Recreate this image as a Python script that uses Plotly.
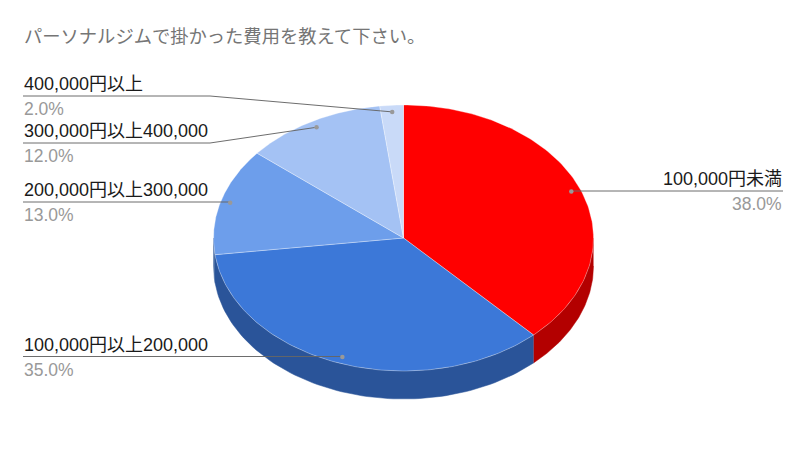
import numpy as np
import plotly.graph_objects as go

title = 'パーソナルジムで掛かった費用を教えて下さい。'
categories = ['100,000円未満', '100,000円以上200,000', '200,000円以上300,000', '300,000円以上400,000', '400,000円以上']
values = [38, 35, 13, 12, 2]
colors = ['#ff0000', '#3c78d8', '#6d9eeb', '#a4c2f4', '#c9daf8']
side_colors = ['#b30000', '#2a5499', '#4c6fa5', '#728aaf', '#8c98ae']

# pixel layout of the pie
cx, cy, rx, ry, depth = 403.5, 238, 190, 133, 28
font = '"Liberation Sans", "Noto Sans CJK JP", sans-serif'

# where each label sits: text edge, elbow x (None = straight line), line y
label_x = [783, 23, 23, 23, 23]
elbow_x = [None, None, None, 210, 210]
line_y = [191, 356.5, 202, 143, 96]


def ell(deg):
    # clockwise from 12 o'clock
    a = np.radians(deg)
    return cx + rx * np.sin(a), cy - ry * np.cos(a)


fig = go.Figure()

shares = np.array(values) / sum(values) * 360
ends = np.cumsum(shares)
starts = ends - shares

# side wall first, only the front half (90-270 deg) can be seen
for s, e, c in zip(starts, ends, side_colors):
    lo, hi = max(s, 90), min(e, 270)
    if hi <= lo:
        continue
    x, y = ell(np.linspace(lo, hi, 80))
    fig.add_trace(go.Scatter(
        x=np.r_[x, x[::-1]], y=np.r_[y, y[::-1] + depth],
        mode='lines', fill='toself', fillcolor=c, line=dict(color=c, width=0.5),
        hoverinfo='skip', showlegend=False))

# top of the pie
for cat, s, e, c in zip(categories, starts, ends, colors):
    x, y = ell(np.linspace(s, e, 120))
    fig.add_trace(go.Scatter(
        x=np.r_[cx, x, cx], y=np.r_[cy, y, cy],
        mode='lines', fill='toself', fillcolor=c,
        line=dict(color='rgba(255,255,255,0.45)', width=0.7),
        name=cat, hoverinfo='skip', showlegend=False))

# leader lines and labels
annotations = []
for i, (cat, val) in enumerate(zip(categories, values)):
    mid = (starts[i] + ends[i]) / 2
    ax, ay = cx + 0.95 * rx * np.sin(np.radians(mid)), cy - 0.95 * ry * np.cos(np.radians(mid))
    if elbow_x[i] is None:
        lx = [label_x[i], ax]
        ly = [line_y[i], line_y[i]]
    else:
        lx = [label_x[i], elbow_x[i], ax]
        ly = [line_y[i], line_y[i], ay]
    fig.add_trace(go.Scatter(x=lx, y=ly, mode='lines', line=dict(color='#666666', width=1),
                             opacity=0.95, hoverinfo='skip', showlegend=False))
    fig.add_trace(go.Scatter(x=[ax], y=[ay], mode='markers', marker=dict(color='#999999', size=4.5),
                             hoverinfo='skip', showlegend=False))
    anchor = 'right' if label_x[i] > cx else 'left'
    annotations.append(dict(x=label_x[i], y=line_y[i] - 1, text=cat, showarrow=False, xanchor=anchor,
                            yanchor='bottom', borderpad=0,
                            font=dict(family=font, size=18, color='#1a1a1a')))
    annotations.append(dict(x=label_x[i], y=line_y[i] + 2, text='%.1f%%' % val, showarrow=False, xanchor=anchor,
                            yanchor='top', borderpad=0,
                            font=dict(family=font, size=17.5, color='#999999')))

annotations.append(dict(x=23, y=36, text=title, showarrow=False, xanchor='left', yanchor='middle',
                        borderpad=0, font=dict(family=font, size=18.3, color='#757575')))

# the page keeps an 8px body margin, so the axes start at 8 to stay 1:1 with window pixels
fig.update_layout(
    width=799, height=457, margin=dict(l=0, r=0, t=0, b=0),
    paper_bgcolor='white', plot_bgcolor='white', annotations=annotations,
    xaxis=dict(range=[8, 807], visible=False, fixedrange=True),
    yaxis=dict(range=[465, 8], visible=False, fixedrange=True),
)
fig.write_html("out.html")
